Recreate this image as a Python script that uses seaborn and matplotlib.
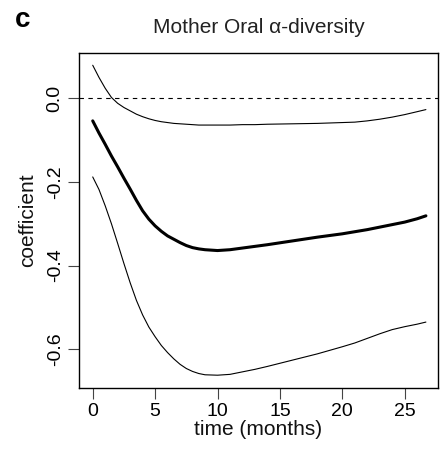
import matplotlib
matplotlib.use("Agg")
import matplotlib.pyplot as plt
import seaborn as sns
import pandas as pd

# Data
time = [0, 0.5, 1, 1.5, 2, 2.5, 3, 3.5, 4, 4.5, 5, 5.5, 6, 6.5, 7, 7.5, 8, 8.5, 9, 10, 11,
        12, 13, 14, 16, 18, 20, 21, 22, 23, 24, 25, 26, 26.7]
coef_mean = [-0.054, -0.083, -0.110, -0.138, -0.164, -0.191, -0.217, -0.244, -0.269, -0.289,
             -0.305, -0.318, -0.329, -0.337, -0.345, -0.352, -0.357, -0.360, -0.362, -0.364,
             -0.362, -0.358, -0.354, -0.350, -0.341, -0.332, -0.324, -0.319, -0.314, -0.308,
             -0.302, -0.296, -0.288, -0.281]
coef_upper = [0.079, 0.050, 0.024, 0.002, -0.012, -0.022, -0.030, -0.038, -0.044, -0.049,
              -0.053, -0.056, -0.058, -0.060, -0.061, -0.062, -0.063, -0.064, -0.064, -0.064,
              -0.064, -0.063, -0.063, -0.062, -0.061, -0.060, -0.058, -0.057, -0.054, -0.050,
              -0.045, -0.039, -0.032, -0.027]
coef_lower = [-0.188, -0.218, -0.257, -0.300, -0.347, -0.395, -0.441, -0.483, -0.518, -0.547,
              -0.570, -0.591, -0.608, -0.623, -0.636, -0.646, -0.653, -0.658, -0.661, -0.662,
              -0.660, -0.654, -0.648, -0.641, -0.626, -0.611, -0.594, -0.585, -0.574, -0.563,
              -0.553, -0.546, -0.540, -0.535]
xticks = [0, 5, 10, 15, 20, 25]
yticks = [0.0, -0.2, -0.4, -0.6]
ytick_labels = ["0.0", "-0.2", "-0.4", "-0.6"]

sns.set_theme(style="white")
plt.rcParams['font.family'] = ['Liberation Sans', 'DejaVu Sans']
plt.rcParams['axes.unicode_minus'] = False

df = pd.DataFrame({"time": time, "mean": coef_mean, "upper": coef_upper, "lower": coef_lower})

fig = plt.figure(figsize=(4.41, 4.49), dpi=100)
ax = fig.add_axes([79/441, 1-388/449, (438-79)/441, (388-52.7)/449])

ax.axhline(0, color="black", lw=0.8, ls=(0, (4, 4)))
sns.lineplot(data=df, x="time", y="upper", ax=ax, color="black", lw=0.8)
sns.lineplot(data=df, x="time", y="lower", ax=ax, color="black", lw=0.8)
sns.lineplot(data=df, x="time", y="mean", ax=ax, color="black", lw=2.2)

ax.set_xlim(-1.1, 27.67)
ax.set_ylim(-0.6926, 0.109)
ax.set_xticks(xticks)
ax.set_xticklabels([str(t) for t in xticks])
ax.set_yticks(yticks)
ax.set_yticklabels(ytick_labels, rotation=90, va="center")

for s in ax.spines.values():
    s.set_color("black")
    s.set_linewidth(1.0)
ax.tick_params(axis="both", which="both", direction="out", length=8, width=0.8,
               color="#444444", labelsize=14, labelcolor="black", pad=3,
               bottom=True, left=True)

ax.set_xlabel("time (months)", fontsize=15, labelpad=0, color="#111111")
ax.set_ylabel("coefficient", fontsize=15, labelpad=7, color="#111111")
ax.set_title("Mother Oral α-diversity", fontsize=15, pad=14, color="#222222")
fig.text(23/441, 1-20/449, "c", fontsize=20, fontweight="bold", ha="center", va="center",
         color="black")

fig.savefig("out.png", dpi=100)
